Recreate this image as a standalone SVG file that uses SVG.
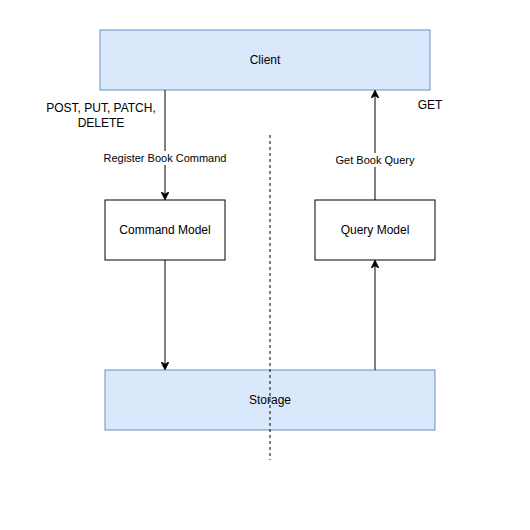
<svg xmlns="http://www.w3.org/2000/svg" width="530" height="530" viewBox="0 0 530 530">
<style>
.blue{fill:#dae8fc;stroke:#6c8ebf;stroke-width:1}
.plain{fill:#ffffff;stroke:#000000;stroke-width:1}
text{font-family:"Liberation Sans",Arial,sans-serif;fill:#000000;text-anchor:middle;dominant-baseline:central}
.t12{font-size:12px}
.t11{font-size:11px}
.edge{stroke:#000000;stroke-width:1;fill:none}
</style>
<defs>
<marker id="arr" viewBox="0 0 10 10" refX="9" refY="5" markerWidth="8" markerHeight="8" markerUnits="userSpaceOnUse" orient="auto">
<path d="M0,0 L10,5 L0,10 L3,5 Z" fill="#000000" stroke="#000000" stroke-width="1"/>
</marker>
</defs>
<rect width="530" height="530" fill="#ffffff"/>
<g id="client">
<rect class="blue" x="100" y="30" width="330" height="60"/>
<text class="t12" x="265" y="60">Client</text>
</g>
<g id="command-model">
<rect class="plain" x="105" y="200" width="120" height="60"/>
<text class="t12" x="165" y="230">Command Model</text>
</g>
<g id="query-model">
<rect class="plain" x="315" y="200" width="120" height="60"/>
<text class="t12" x="375" y="230">Query Model</text>
</g>
<g id="storage">
<rect class="blue" x="105" y="370" width="330" height="60"/>
<text class="t12" x="270" y="400">Storage</text>
</g>
<g id="divider">
<line x1="270" y1="135" x2="270" y2="460" stroke="#000000" stroke-width="1" stroke-dasharray="3 3"/>
</g>
<g id="connectors">
<line class="edge" x1="165" y1="90" x2="165" y2="199" marker-end="url(#arr)"/>
<line class="edge" x1="375" y1="200" x2="375" y2="91" marker-end="url(#arr)"/>
<line class="edge" x1="165" y1="260" x2="165" y2="369" marker-end="url(#arr)"/>
<line class="edge" x1="375" y1="370" x2="375" y2="261" marker-end="url(#arr)"/>
<rect x="103" y="151" width="124" height="14" fill="#ffffff"/>
<text class="t11" x="165" y="158">Register Book Command</text>
<rect x="335" y="153" width="81" height="14" fill="#ffffff"/>
<text class="t11" x="375" y="160">Get Book Query</text>
<text class="t12" x="101" y="108">POST, PUT, PATCH,</text>
<text class="t12" x="101" y="123">DELETE</text>
<text class="t12" x="430" y="105">GET</text>
</g>
</svg>
